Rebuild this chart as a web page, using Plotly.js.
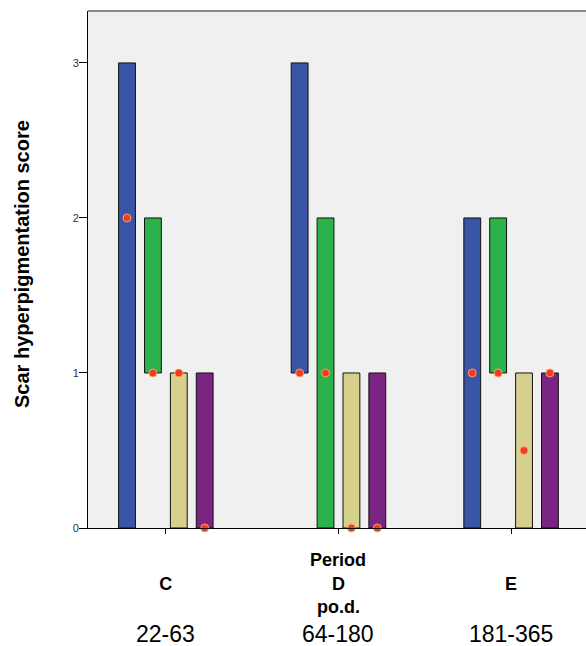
<!DOCTYPE html>
<html>
<head>
<meta charset="utf-8">
<script src="https://cdn.plot.ly/plotly-3.0.1.min.js"></script>
<style>html,body{margin:0;padding:0;background:#fff;}</style>
</head>
<body>
<div id="chart" style="width:586px;height:646px;"></div>
<script>
// ---- data ----
var periods = ['C', 'D', 'E'];
var periodRanges = ['22-63', '64-180', '181-365'];
var seriesNames = ['Group 1', 'Group 2', 'Group 3', 'Group 4'];
var lowValues = [
  [0, 1, 0],   // blue
  [1, 0, 1],   // green
  [0, 0, 0],   // tan
  [0, 0, 0]    // purple
];
var highValues = [
  [3, 3, 2],
  [2, 2, 2],
  [1, 1, 1],
  [1, 1, 1]
];
var medianValues = [
  [2, 1, 1],
  [1, 1, 1],
  [1, 0, 0.5],
  [0, 0, 1]
];
var yTicks = [0, 1, 2, 3];

// ---- styles ----
var barColors = ['#3a54a6', '#2bb24a', '#d6d08f', '#7b2583'];
var FONT = 'Arial, "Liberation Sans", Helvetica, sans-serif';

var traces = [];
for (var k = 0; k < 4; k++) {
  traces.push({
    type: 'bar',
    name: seriesNames[k],
    x: periods,
    y: highValues[k].map(function (h, i) { return h - lowValues[k][i]; }),
    base: lowValues[k],
    offsetgroup: String(k),
    marker: {color: barColors[k], line: {color: '#111', width: 1}},
    showlegend: false,
    hoverinfo: 'skip'
  });
}
for (var k2 = 0; k2 < 4; k2++) {
  traces.push({
    type: 'scatter',
    mode: 'markers',
    name: seriesNames[k2] + ' median',
    x: periods,
    y: medianValues[k2],
    offsetgroup: String(k2),
    cliponaxis: false,
    marker: {color: '#f23a2c', size: 8, line: {color: 'rgba(255,180,90,0.85)', width: 1}},
    showlegend: false,
    hoverinfo: 'skip'
  });
}

var H = 646, T = 11, B = 118;
var plotH = H - T - B;
function py(pix) { return (H - B - pix) / plotH; }

var annotations = [];
annotations.push({xref: 'x', yref: 'paper', x: 'D', y: py(560), text: '<b>Period</b>',
  showarrow: false, xanchor: 'center', yanchor: 'middle', font: {family: FONT, size: 18, color: '#000'}});
annotations.push({xref: 'x', yref: 'paper', x: 'D', y: py(607), text: '<b>po.d.</b>',
  showarrow: false, xanchor: 'center', yanchor: 'middle', font: {family: FONT, size: 18, color: '#000'}});
for (var i = 0; i < periods.length; i++) {
  annotations.push({xref: 'x', yref: 'paper', x: periods[i], y: py(634), text: periodRanges[i],
    showarrow: false, xanchor: 'center', yanchor: 'middle', font: {family: FONT, size: 23, color: '#000'}});
}
annotations.push({xref: 'paper', yref: 'paper', x: (22 - 88) / 498, y: py(264), textangle: -90,
  text: '<b>Scar hyperpigmentation score</b>', showarrow: false, xanchor: 'center', yanchor: 'middle',
  font: {family: FONT, size: 20, color: '#000'}});

var layout = {
  width: 586, height: 646,
  margin: {l: 88, r: 0, t: T, b: B, pad: 0},
  paper_bgcolor: '#ffffff',
  plot_bgcolor: '#f0f0f0',
  barmode: 'group',
  bargap: 0.4,
  bargroupgap: 0.35,
  scattermode: 'group',
  scattergap: 0.4,
  showlegend: false,
  font: {family: FONT},
  xaxis: {
    type: 'category',
    range: [-0.451, 2.434],
    tickvals: periods,
    ticktext: periods.map(function (p) { return '<b>' + p + '</b>'; }),
    ticks: 'outside', ticklen: 5, tickcolor: '#000', tickwidth: 1,
    ticklabelstandoff: 34,
    tickfont: {family: FONT, size: 18, color: '#000'},
    showline: true, linecolor: '#000', linewidth: 1,
    showgrid: false, zeroline: false, fixedrange: true
  },
  yaxis: {
    range: [0, 3.335],
    tickvals: yTicks,
    ticks: 'outside', ticklen: 8, tickcolor: '#000', tickwidth: 1,
    ticklabelstandoff: -2,
    tickfont: {family: FONT, size: 11, color: '#333'},
    showline: true, linecolor: '#000', linewidth: 1,
    showgrid: false, zeroline: false, fixedrange: true
  },
  shapes: [{type: 'line', xref: 'paper', yref: 'paper', x0: 0, x1: 1, y0: 1, y1: 1,
    line: {color: '#8a8a8a', width: 2}}],
  annotations: annotations
};

Plotly.newPlot('chart', traces, layout, {displayModeBar: false, staticPlot: true});
</script>
</body>
</html>
